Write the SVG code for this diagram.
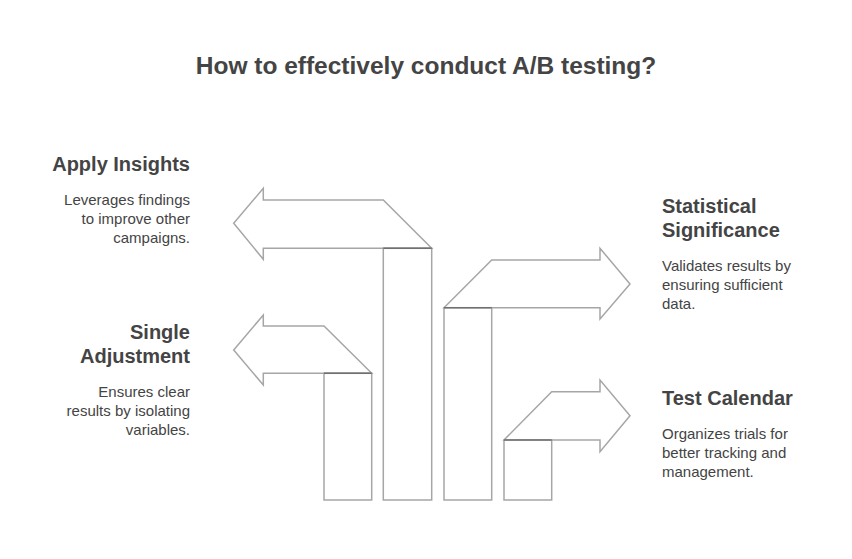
<svg xmlns="http://www.w3.org/2000/svg" width="852" height="559" viewBox="0 0 852 559">
<style>
.s{fill:#fff;stroke:#a6a6a6;stroke-width:1.5;stroke-linejoin:miter}
.e{stroke:#707070;stroke-width:1.5}
.t{font-family:"Liberation Sans",Arial,sans-serif;fill:#444}
.h{font-size:20px;font-weight:bold}
.b{font-size:15px}
</style>
<rect width="852" height="559" fill="#fff"/>
<text class="t" x="426" y="74" text-anchor="middle" font-size="24.5" font-weight="bold">How to effectively conduct A/B testing?</text>
<g id="connectors">
<g id="apply-arrow"><path class="s" d="M431.7,248.3 L383.3,200 L263.3,200 L263.3,188.3 L233.7,223.3 L263.3,259.3 L263.3,248.3 Z"/><rect class="s" x="383.3" y="248.3" width="48.4" height="251.7"/><line class="e" x1="383.3" y1="248.3" x2="431.7" y2="248.3"/></g>
<g id="single-arrow"><path class="s" d="M371.7,373.3 L324,326 L263.3,326 L263.3,315 L233.7,350 L263.3,385 L263.3,373.3 Z"/><rect class="s" x="324" y="373.3" width="47.7" height="126.7"/><line class="e" x1="324" y1="373.3" x2="371.7" y2="373.3"/></g>
<g id="stat-arrow"><path class="s" d="M444,307.7 L491.7,260 L600,260 L600,248.3 L630,284 L600,319 L600,307.7 Z"/><rect class="s" x="444" y="307.7" width="47.7" height="192.3"/><line class="e" x1="444" y1="307.7" x2="491.7" y2="307.7"/></g>
<g id="test-arrow"><path class="s" d="M504,440 L551.7,391.7 L600,391.7 L600,380 L630,415.7 L600,451.7 L600,440 Z"/><rect class="s" x="504" y="440" width="47.7" height="60"/><line class="e" x1="504" y1="440" x2="551.7" y2="440"/></g>
</g>
<g id="apply" class="t" text-anchor="end"><text class="h" x="190" y="171">Apply Insights</text><text class="b" x="190" y="205">Leverages findings</text><text class="b" x="190" y="224">to improve other</text><text class="b" x="190" y="243">campaigns.</text></g>
<g id="single" class="t" text-anchor="end"><text class="h" x="190" y="339">Single</text><text class="h" x="190" y="363">Adjustment</text><text class="b" x="190" y="397">Ensures clear</text><text class="b" x="190" y="416">results by isolating</text><text class="b" x="190" y="435">variables.</text></g>
<g id="stat" class="t"><text class="h" x="662" y="213">Statistical</text><text class="h" x="662" y="237">Significance</text><text class="b" x="662" y="271">Validates results by</text><text class="b" x="662" y="290">ensuring sufficient</text><text class="b" x="662" y="309">data.</text></g>
<g id="test" class="t"><text class="h" x="662" y="405">Test Calendar</text><text class="b" x="662" y="439">Organizes trials for</text><text class="b" x="662" y="458">better tracking and</text><text class="b" x="662" y="477">management.</text></g>
</svg>
